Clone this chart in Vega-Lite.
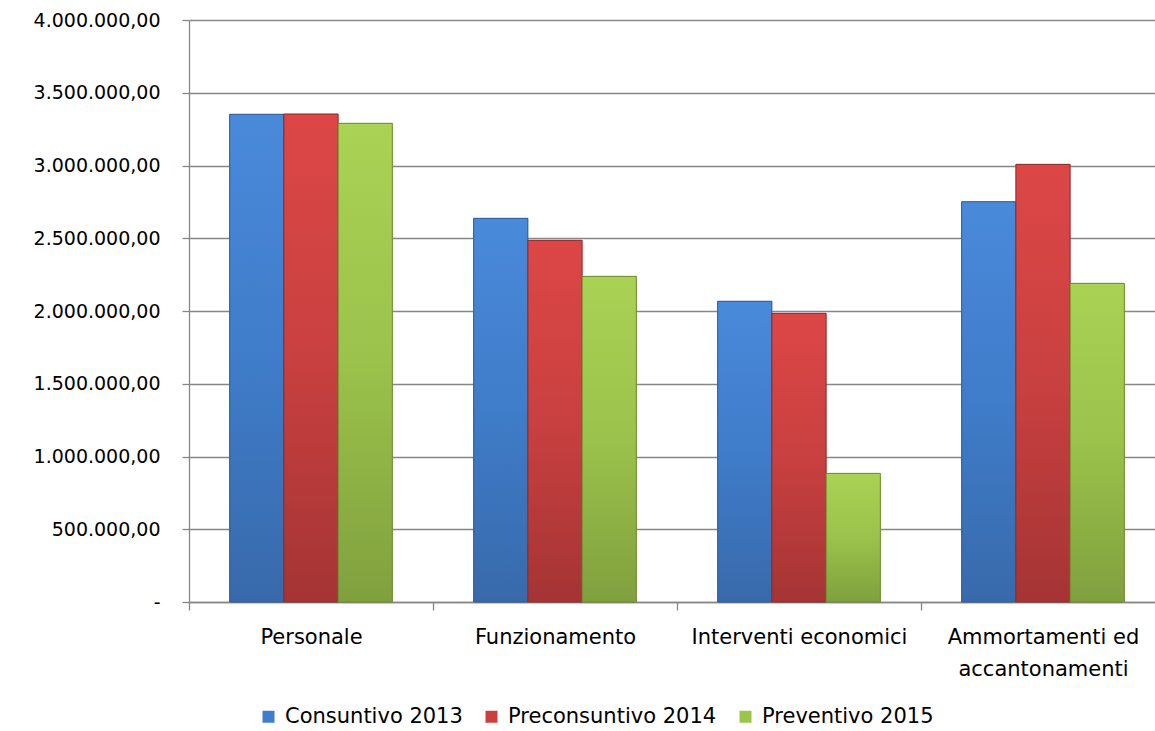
{
  "$schema": "https://vega.github.io/schema/vega-lite/v6.json",
  "width": 966,
  "height": 582,
  "autosize": {"type": "none"},
  "padding": {"left": 189, "top": 20, "right": 0, "bottom": 129},
  "background": "white",
  "config": {
    "locale": {"number": {"decimal": ",", "thousands": ".", "grouping": [3], "currency": ["€", ""]}},
    "font": "DejaVu Sans",
    "view": {"stroke": null}
  },
  "data": {
    "values": [
      {"categoria": "Personale", "serie": "Consuntivo 2013", "valore": 3352000},
      {"categoria": "Personale", "serie": "Preconsuntivo 2014", "valore": 3354000},
      {"categoria": "Personale", "serie": "Preventivo 2015", "valore": 3290000},
      {"categoria": "Funzionamento", "serie": "Consuntivo 2013", "valore": 2637000},
      {"categoria": "Funzionamento", "serie": "Preconsuntivo 2014", "valore": 2486000},
      {"categoria": "Funzionamento", "serie": "Preventivo 2015", "valore": 2238000},
      {"categoria": "Interventi economici", "serie": "Consuntivo 2013", "valore": 2067000},
      {"categoria": "Interventi economici", "serie": "Preconsuntivo 2014", "valore": 1984000},
      {"categoria": "Interventi economici", "serie": "Preventivo 2015", "valore": 884000},
      {"categoria": "Ammortamenti ed accantonamenti", "serie": "Consuntivo 2013", "valore": 2751000},
      {"categoria": "Ammortamenti ed accantonamenti", "serie": "Preconsuntivo 2014", "valore": 3008000},
      {"categoria": "Ammortamenti ed accantonamenti", "serie": "Preventivo 2015", "valore": 2190000}
    ]
  },
  "encoding": {
    "x": {
      "field": "categoria",
      "type": "nominal",
      "sort": null,
      "title": null,
      "scale": {"paddingInner": 0, "paddingOuter": 0, "range": [0, 976]},
      "axis": {
        "labelAngle": 0,
        "labelFontSize": 21,
        "labelColor": "#000000",
        "labelLimit": 400,
        "labelOverlap": false,
        "labelPadding": 16,
        "labelLineHeight": 32,
        "labelExpr": "datum.label == 'Ammortamenti ed accantonamenti' ? ['Ammortamenti ed', 'accantonamenti'] : datum.label",
        "tickBand": "extent",
        "tickSize": 8,
        "tickColor": "#878787",
        "tickWidth": 1.3,
        "domainColor": "#878787",
        "domainWidth": 1.3,
        "grid": false
      }
    },
    "xOffset": {
      "field": "serie",
      "type": "nominal",
      "sort": ["Consuntivo 2013", "Preconsuntivo 2014", "Preventivo 2015"],
      "scale": {"paddingInner": 0, "paddingOuter": 0.75}
    },
    "y": {
      "field": "valore",
      "type": "quantitative",
      "title": null,
      "scale": {"domain": [0, 4000000], "nice": false},
      "axis": {
        "values": [0, 500000, 1000000, 1500000, 2000000, 2500000, 3000000, 3500000, 4000000],
        "format": ",.2f",
        "labelExpr": "datum.value == 0 ? '-' : datum.label",
        "labelFontSize": 19,
        "labelColor": "#000000",
        "labelPadding": 22,
        "labelOverlap": false,
        "tickSize": 7,
        "tickColor": "#878787",
        "tickWidth": 1.3,
        "domainColor": "#878787",
        "domainWidth": 1.3,
        "grid": true,
        "gridColor": "#878787",
        "gridWidth": 1.3
      }
    }
  },
  "layer": [
    {
      "mark": {"type": "bar"},
      "encoding": {
        "color": {
          "field": "serie",
          "type": "nominal",
          "sort": ["Consuntivo 2013", "Preconsuntivo 2014", "Preventivo 2015"],
          "scale": {"range": ["#3F7ECC", "#CC3F3F", "#9CC54B"]},
          "legend": {
            "title": null,
            "orient": "none",
            "legendX": 69,
            "legendY": 686,
            "direction": "horizontal",
            "padding": 0,
            "symbolType": "square",
            "symbolSize": 144,
            "symbolStrokeWidth": 0,
            "symbolOpacity": 1,
            "labelFontSize": 21,
            "labelColor": "#000000",
            "labelOffset": 6,
            "columnPadding": 18,
            "labelLimit": 400
          }
        }
      }
    },
    {
      "transform": [{"filter": "datum.serie == 'Consuntivo 2013'"}],
      "mark": {
        "type": "bar",
        "stroke": "#2E5A92",
        "strokeWidth": 1,
        "fill": {"gradient": "linear", "x1": 0, "y1": 0, "x2": 0, "y2": 1,
          "stops": [{"offset": 0, "color": "#4A8ADB"}, {"offset": 0.5, "color": "#3F7CC9"}, {"offset": 1, "color": "#386AAB"}]}
      }
    },
    {
      "transform": [{"filter": "datum.serie == 'Preconsuntivo 2014'"}],
      "mark": {
        "type": "bar",
        "stroke": "#8C2A2A",
        "strokeWidth": 1,
        "fill": {"gradient": "linear", "x1": 0, "y1": 0, "x2": 0, "y2": 1,
          "stops": [{"offset": 0, "color": "#DC4746"}, {"offset": 0.5, "color": "#C94040"}, {"offset": 1, "color": "#A53434"}]}
      }
    },
    {
      "transform": [{"filter": "datum.serie == 'Preventivo 2015'"}],
      "mark": {
        "type": "bar",
        "stroke": "#6A8A2E",
        "strokeWidth": 1,
        "fill": {"gradient": "linear", "x1": 0, "y1": 0, "x2": 0, "y2": 1,
          "stops": [{"offset": 0, "color": "#AAD254"}, {"offset": 0.5, "color": "#9BC24B"}, {"offset": 1, "color": "#80A03E"}]}
      }
    }
  ]
}
